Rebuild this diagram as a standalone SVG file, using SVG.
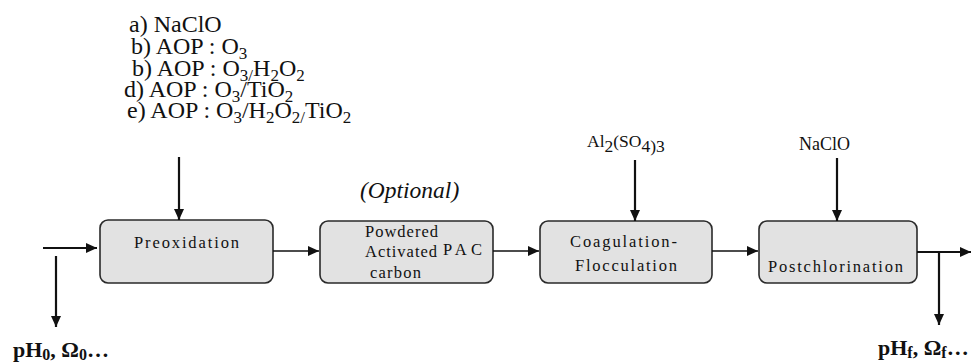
<svg xmlns="http://www.w3.org/2000/svg" width="974" height="362" viewBox="0 0 974 362">
<style>
  .lbl{font-family:"Liberation Serif","DejaVu Serif",serif;fill:#111;}
  .list{font-size:24px;}
  .sub{font-size:17px;}
  .box{fill:#e2e2e2;stroke:#2a2a2a;stroke-width:1.6;}
  .bt{font-family:"Liberation Serif","DejaVu Serif",serif;font-size:16.5px;fill:#111;}
  .conn{stroke:#111;stroke-width:1.5;fill:none;}
  .feed{stroke:#111;stroke-width:2.2;fill:none;}
  .big{font-family:"Liberation Serif","DejaVu Serif",serif;font-weight:bold;font-size:22px;fill:#111;}
  .bsub{font-size:16px;}
</style>
<defs>
  <marker id="ah" markerUnits="userSpaceOnUse" markerWidth="11" markerHeight="10" refX="11" refY="5" orient="auto">
    <path d="M0,0 L11,5 L0,10 z" fill="#111"/>
  </marker>
</defs>

<g id="oxidants">
  <text class="lbl list" x="129" y="32">a) NaClO</text>
  <text class="lbl list" x="131" y="54">b) AOP : O<tspan class="sub" dy="5">3</tspan></text>
  <text class="lbl list" x="132" y="75.5">b) AOP : O<tspan class="sub" dy="5">3/</tspan><tspan dy="-5">H</tspan><tspan class="sub" dy="5">2</tspan><tspan dy="-5">O</tspan><tspan class="sub" dy="5">2</tspan></text>
  <text class="lbl list" x="124" y="97">d) AOP : O<tspan class="sub" dy="5">3</tspan><tspan dy="-5">/TiO</tspan><tspan class="sub" dy="5">2</tspan></text>
  <text class="lbl list" x="127" y="118">e) AOP : O<tspan class="sub" dy="5">3</tspan><tspan dy="-5">/H</tspan><tspan class="sub" dy="5">2</tspan><tspan dy="-5">O</tspan><tspan class="sub" dy="5">2/</tspan><tspan dy="-5">TiO</tspan><tspan class="sub" dy="5">2</tspan></text>
</g>

<g id="coagulant">
  <text class="lbl" style="font-size:17.5px" x="587" y="147">Al<tspan dy="5">2</tspan><tspan dy="-5">(SO</tspan><tspan dy="5">4</tspan><tspan>)3</tspan></text>
</g>

<g id="chlorine">
  <text class="lbl" style="font-size:18px" x="799" y="150">NaClO</text>
</g>

<g id="optional">
  <text class="lbl" style="font-size:23.5px;font-style:italic" x="360" y="198">(Optional)</text>
</g>

<g id="preoxidation">
  <rect class="box" x="100" y="220" width="173" height="63" rx="8"/>
  <text class="bt" x="134" y="248" textLength="105" lengthAdjust="spacing">Preoxidation</text>
</g>

<g id="pac">
  <rect class="box" x="320" y="221" width="173" height="62" rx="8"/>
  <text class="bt" x="365" y="237" textLength="73" lengthAdjust="spacing">Powdered</text>
  <text class="bt" x="365" y="257" textLength="72" lengthAdjust="spacing">Activated</text>
  <text class="bt" x="443" y="255" textLength="39" lengthAdjust="spacing">PAC</text>
  <text class="bt" x="370" y="278" textLength="51" lengthAdjust="spacing">carbon</text>
</g>

<g id="coagulation">
  <rect class="box" x="540" y="221" width="172" height="62" rx="8"/>
  <text class="bt" x="570" y="247" textLength="107" lengthAdjust="spacing">Coagulation-</text>
  <text class="bt" x="575" y="271" textLength="102" lengthAdjust="spacing">Flocculation</text>
</g>

<g id="postchlorination">
  <rect class="box" x="759" y="221" width="158" height="62" rx="8"/>
  <text class="bt" x="768" y="272" textLength="135" lengthAdjust="spacing">Postchlorination</text>
</g>

<g id="inlet">
  <text class="big" x="13" y="357">pH<tspan class="bsub" dy="3">0</tspan><tspan dy="-3">, Ω</tspan><tspan class="bsub" dy="3">0</tspan><tspan dy="-3">…</tspan></text>
</g>

<g id="outlet">
  <text class="big" x="878" y="355">pH<tspan class="bsub" dy="3">f</tspan><tspan dy="-3">, Ω</tspan><tspan class="bsub" dy="3">f</tspan><tspan dy="-3">…</tspan></text>
</g>

<g id="connectors">
  <line class="feed" x1="179" y1="157" x2="179" y2="220" marker-end="url(#ah)"/>
  <line class="feed" x1="635" y1="160" x2="635" y2="221" marker-end="url(#ah)"/>
  <line class="feed" x1="837" y1="158" x2="837" y2="221" marker-end="url(#ah)"/>
  <line class="feed" x1="43" y1="248" x2="97" y2="248" marker-end="url(#ah)"/>
  <line class="feed" x1="56" y1="256" x2="56" y2="327" marker-end="url(#ah)"/>
  <line class="conn" x1="273" y1="251" x2="319" y2="251" marker-end="url(#ah)"/>
  <line class="conn" x1="493" y1="251" x2="539" y2="251" marker-end="url(#ah)"/>
  <line class="conn" x1="712" y1="251" x2="758" y2="251" marker-end="url(#ah)"/>
  <line class="feed" x1="917" y1="252" x2="971" y2="252" marker-end="url(#ah)"/>
  <line class="feed" x1="939" y1="252" x2="939" y2="325" marker-end="url(#ah)"/>
</g>
</svg>
